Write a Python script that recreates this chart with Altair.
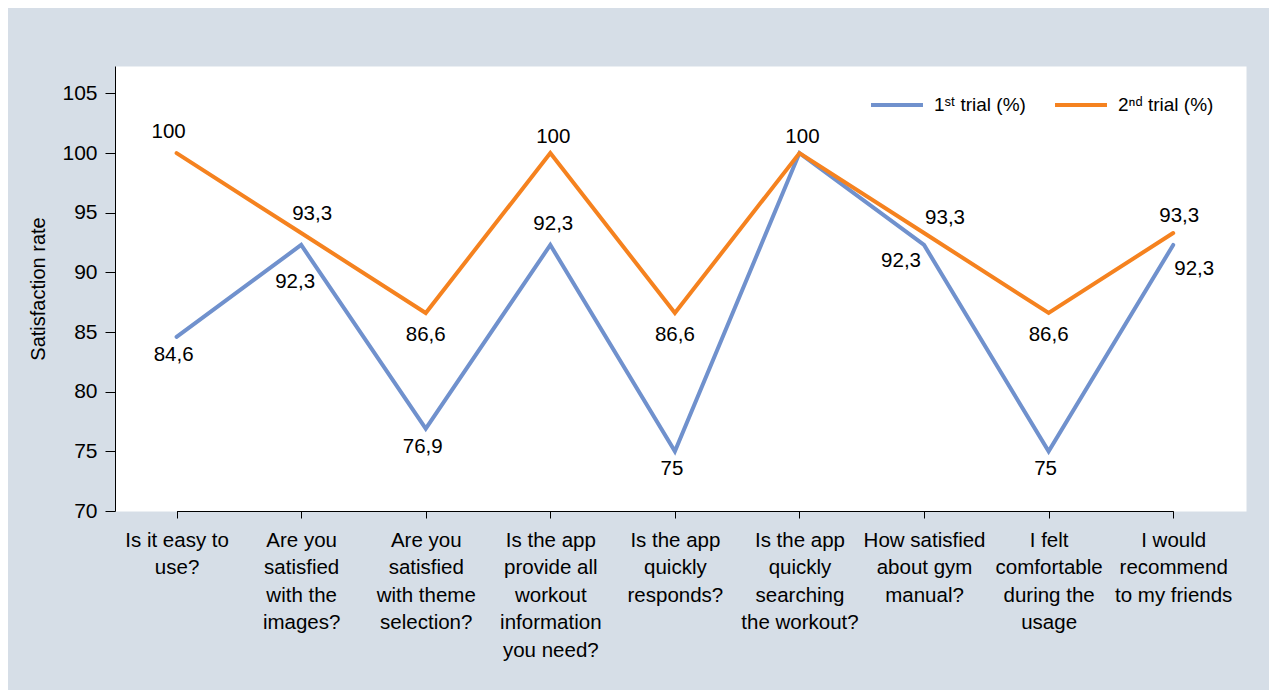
import altair as alt
import pandas as pd

# ---- data -------------------------------------------------------------
categories = [
    "Is it easy to\nuse?",
    "Are you\nsatisfied\nwith the\nimages?",
    "Are you\nsatisfied\nwith theme\nselection?",
    "Is the app\nprovide all\nworkout\ninformation\nyou need?",
    "Is the app\nquickly\nresponds?",
    "Is the app\nquickly\nsearching\nthe workout?",
    "How satisfied\nabout gym\nmanual?",
    "I felt\ncomfortable\nduring the\nusage",
    "I would\nrecommend\nto my friends",
]
series_names = ["1ˢᵗ trial (%)", "2ⁿᵈ trial (%)"]
trial1 = [84.6, 92.3, 76.9, 92.3, 75, 100, 92.3, 75, 92.3]
trial2 = [100, 93.3, 86.6, 100, 86.6, 100, 93.3, 86.6, 93.3]
y_ticks = [70, 75, 80, 85, 90, 95, 100, 105]

# where each value label sits next to its point ("" = label not shown)
trial1_place = ["below", "below_deep", "below", "above_high", "below", "",
                "below_left", "below", "below_right"]
trial2_place = ["above_left", "above_right", "below_far", "above", "below_far",
                "above", "above_right_far", "below_far", "above_near"]

# ---- styles -----------------------------------------------------------
FONT = "Liberation Sans"
colors = ["#7091cd", "#f5821f"]
place_offsets = {
    "below": (-3, 18),
    "below_deep": (-6, 37),
    "below_far": (0, 22),
    "below_left": (-23, 16),
    "below_right": (21, 24),
    "above": (3, -16),
    "above_high": (3, -21),
    "above_left": (-8, -21),
    "above_right": (11, -19),
    "above_right_far": (21, -15),
    "above_near": (6, -17),
}
x_scale = alt.Scale(type="point", domain=categories, range=[61.6, 1058.2], padding=0)
y_scale = alt.Scale(domain=[70, 107.3], nice=False, zero=False)


def fmt(v):
    return f"{v:g}".replace(".", ",")


rows = []
for name, vals, places in [(series_names[0], trial1, trial1_place),
                           (series_names[1], trial2, trial2_place)]:
    for q, v, p in zip(categories, vals, places):
        rows.append({"question": q, "series": name, "value": v,
                     "label": fmt(v), "place": p})
df = pd.DataFrame(rows)

x_enc = alt.X(
    "question:N",
    sort=categories,
    scale=x_scale,
    axis=alt.Axis(
        title=None,
        labelAngle=0,
        labelExpr="split(datum.label, '\\n')",
        labelFontSize=20.5,
        labelLineHeight=27.5,
        labelPadding=12,
        tickSize=7,
        labelBaseline="top",
    ),
)
y_enc = alt.Y(
    "value:Q",
    scale=y_scale,
    axis=alt.Axis(
        title="Satisfaction rate",
        values=y_ticks,
        grid=False,
        tickSize=10,
        labelPadding=8,
        labelFontSize=21,
        titleFontSize=20,
        titleFontWeight="normal",
        titlePadding=13,
    ),
)

lines = alt.Chart(df).mark_line(strokeWidth=4, strokeCap="round").encode(
    x=x_enc,
    y=y_enc,
    color=alt.Color(
        "series:N",
        scale=alt.Scale(domain=series_names, range=colors),
        legend=alt.Legend(
            title=None,
            orient="none",
            legendX=754,
            legendY=11,
            direction="horizontal",
            symbolType="stroke",
            symbolStrokeWidth=4,
            symbolSize=2700,
            labelFontSize=19,
            labelOffset=9,
            columnPadding=21,
            labelFont=FONT,
            labelColor="black",
        ),
    ),
    order=alt.Order("series:N"),
)

texts = []
for place, (dx, dy) in place_offsets.items():
    t = alt.Chart(df).transform_filter(
        alt.datum.place == place
    ).mark_text(
        dx=dx, dy=dy, fontSize=20.5, font=FONT, color="black",
        align="center", baseline="middle",
    ).encode(
        x=alt.X("question:N", sort=categories, scale=x_scale),
        y=alt.Y("value:Q", scale=y_scale),
        text="label:N",
    )
    texts.append(t)

chart = alt.layer(lines, *texts).properties(
    width=1131,
    height=445,
    background="#d6dee7",
    padding={"left": 107, "top": 58, "right": 23, "bottom": 179},
    autosize=alt.AutoSizeParams(type="none"),
).configure_view(
    fill="white", strokeOpacity=0
).configure_axis(
    domainColor="black",
    tickColor="black",
    labelColor="black",
    titleColor="black",
    labelFont=FONT,
    titleFont=FONT,
    domainWidth=1,
)

chart.save("out.html", embed_options={"renderer": "svg", "actions": False})
